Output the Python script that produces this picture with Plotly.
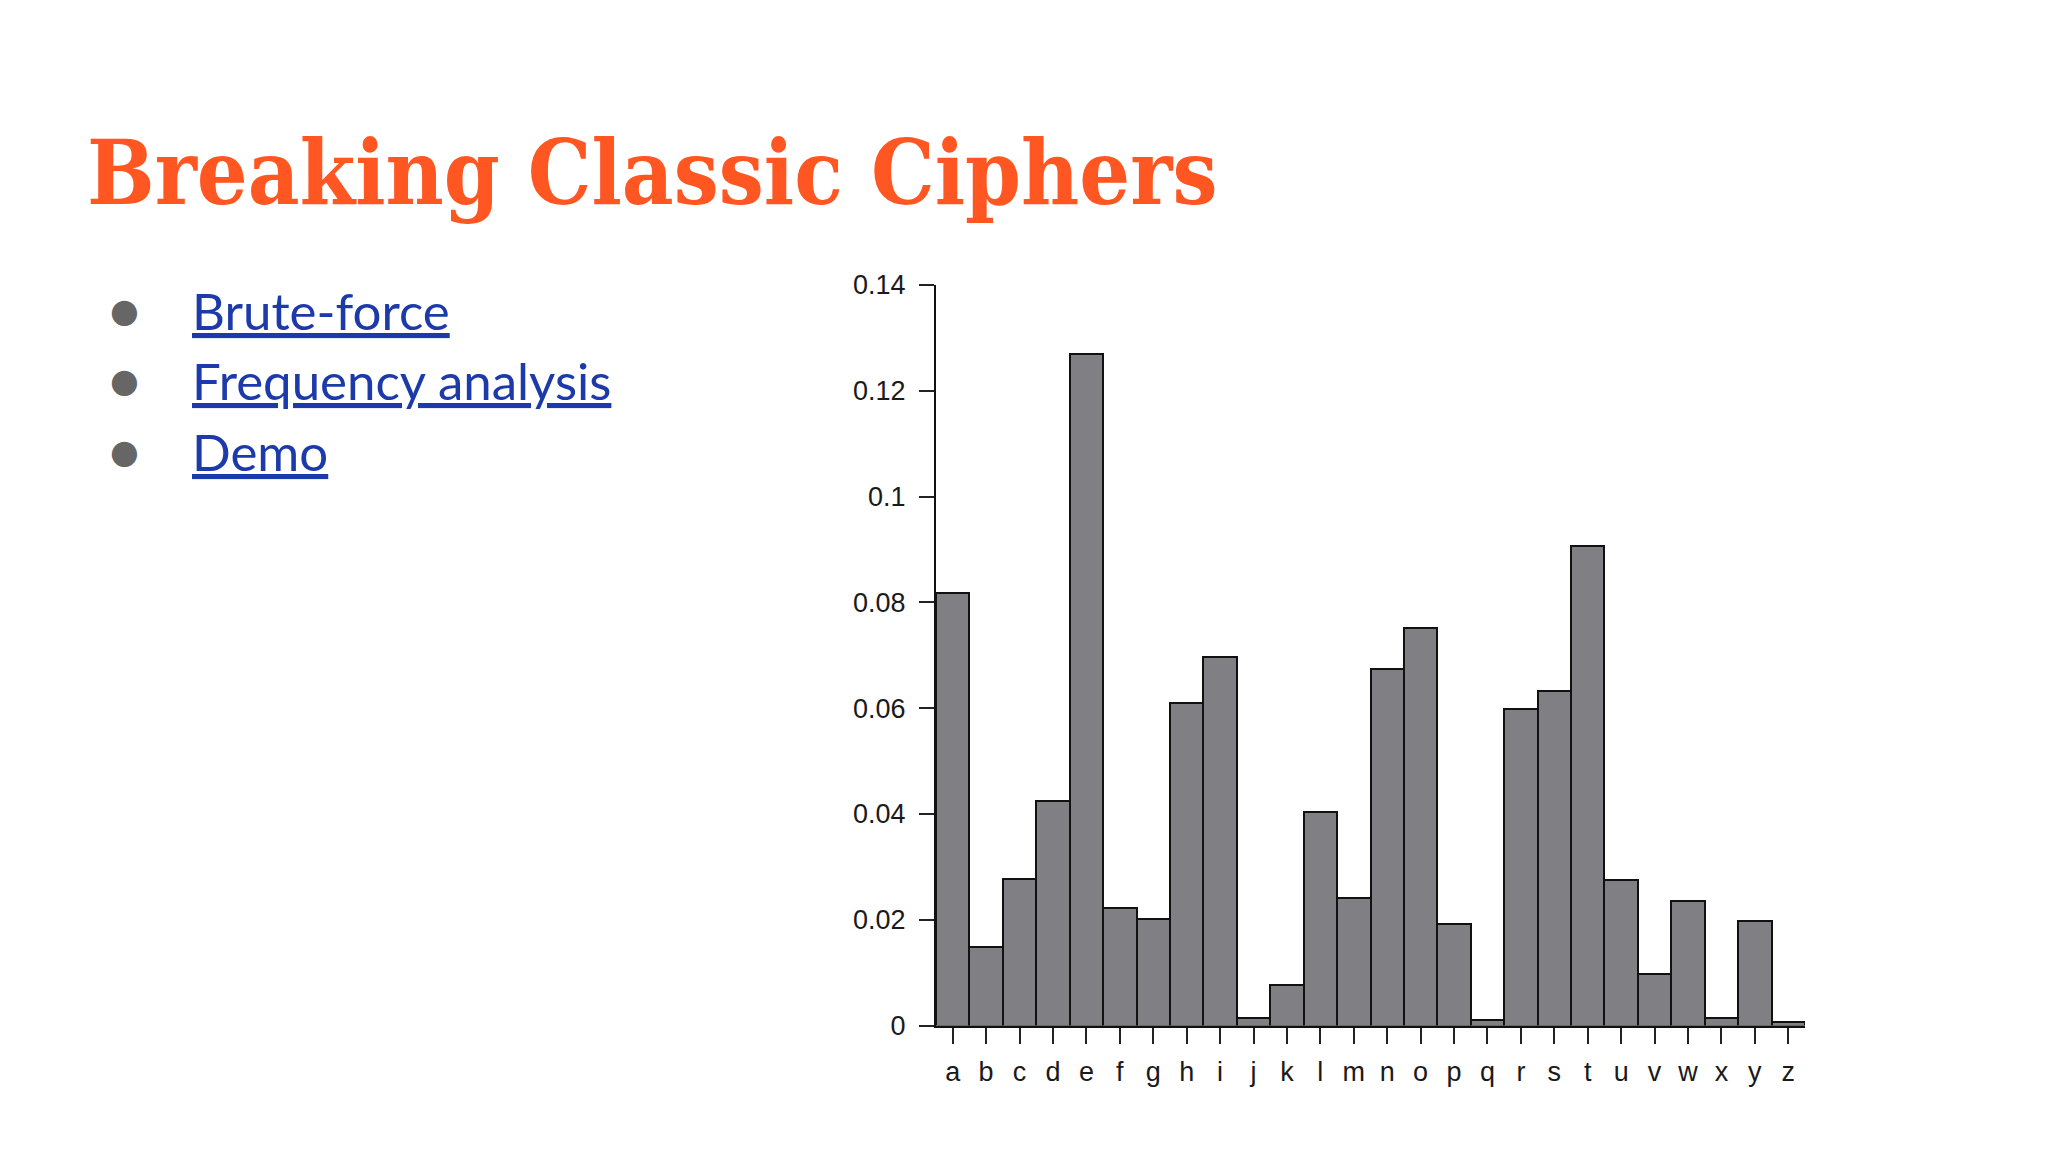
import plotly.graph_objects as go

letters = list("abcdefghijklmnopqrstuvwxyz")
freq = [0.0817, 0.0149, 0.0278, 0.0425, 0.1270, 0.0223, 0.0202, 0.0609, 0.0697, 0.0015,
        0.0077, 0.0403, 0.0241, 0.0675, 0.0751, 0.0193, 0.0010, 0.0599, 0.0633, 0.0906,
        0.0276, 0.0098, 0.0236, 0.0015, 0.0197, 0.0007]
y_ticks = [0, 0.02, 0.04, 0.06, 0.08, 0.1, 0.12, 0.14]
y_tick_text = ["0", "0.02", "0.04", "0.06", "0.08", "0.1", "0.12", "0.14"]
title_text = "Breaking Classic Ciphers"
bullets = ["Brute-force", "Frequency analysis", "Demo"]

W, H = 2048, 1152
fig = go.Figure()
fig.add_trace(go.Bar(
    x=letters, y=freq,
    marker=dict(color="#807f83", line=dict(color="#111111", width=2)),
    width=1.0,
))

fig.update_layout(
    width=W, height=H,
    margin=dict(l=0, r=0, t=0, b=0),
    paper_bgcolor="#ffffff", plot_bgcolor="rgba(0,0,0,0)",
    showlegend=False, bargap=0,
    xaxis=dict(
        domain=[928 / W, 1797 / W], range=[-0.5, 25.5],
        showline=True, linecolor="#111111", linewidth=2,
        ticks="outside", ticklen=16, tickwidth=2, tickcolor="#222222",
        showgrid=False, zeroline=False,
        tickfont=dict(family="Liberation Sans, Arial, sans-serif", size=27, color="#1a1a1a"),
        ticklabelstandoff=5,
    ),
    yaxis=dict(
        domain=[(H - 1029.4) / H, (H - 269) / H], range=[0, 0.14],
        tickvals=y_ticks, ticktext=y_tick_text,
        showline=True, linecolor="#111111", linewidth=2,
        ticks="outside", ticklen=15, tickwidth=2, tickcolor="#222222",
        showgrid=False, zeroline=False,
        tickfont=dict(family="Liberation Sans, Arial, sans-serif", size=27, color="#1a1a1a"),
        ticklabelstandoff=8,
    ),
)

fig.add_annotation(
    text=title_text, xref="paper", yref="paper",
    x=77 / W, y=(H - 154) / H, xanchor="left", yanchor="middle", showarrow=False,
    font=dict(family="DejaVu Serif Condensed, DejaVu Serif, serif", size=89, color="#ff5622", weight=900),
)

bullet_y = [295, 367, 440]
for txt, by in zip(bullets, bullet_y):
    fig.add_annotation(
        text="●", xref="paper", yref="paper",
        x=116 / W, y=(H - by) / H, xanchor="center", yanchor="middle", showarrow=False,
        font=dict(family="DejaVu Sans", size=33, color="#666666"),
    )
    fig.add_annotation(
        text=txt, xref="paper", yref="paper",
        x=182 / W, y=(H - by) / H, xanchor="left", yanchor="middle", showarrow=False,
        font=dict(family="Lato, sans-serif", size=51, color="#1c3aa9", lineposition="under"),
    )

fig.write_html("out.html")
